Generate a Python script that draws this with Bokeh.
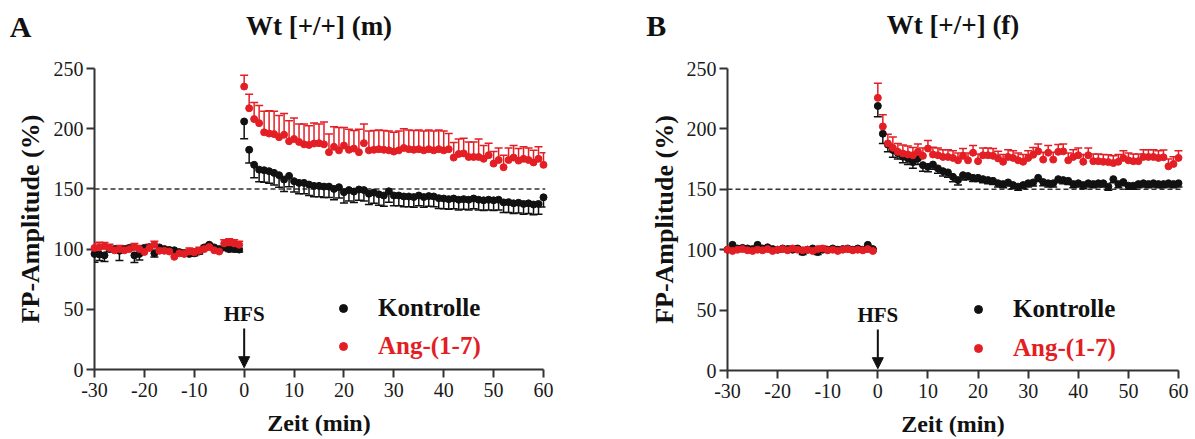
from bokeh.plotting import figure
from bokeh.models import (Range1d, FixedTicker, Whisker, TeeHead, ColumnDataSource, Span,
                          Arrow, NormalHead, Legend, LegendItem)
from bokeh.core.properties import value
from bokeh.layouts import row
from bokeh.embed import file_html
from bokeh.resources import INLINE

# ---------------- data ----------------
t_pre = [-30, -29, -28, -27, -26, -25, -24, -23, -22, -21, -20, -19, -18, -17, -16,
         -15, -14, -13, -12, -11, -10, -9, -8, -7, -6, -5, -4, -3, -2, -1]
t_post = [0, 1, 2, 3, 4, 5, 6, 7, 8, 9, 10, 11, 12, 13, 14, 15, 16, 17, 18, 19, 20,
          21, 22, 23, 24, 25, 26, 27, 28, 29, 30, 31, 32, 33, 34, 35, 36, 37, 38, 39, 40,
          41, 42, 43, 44, 45, 46, 47, 48, 49, 50, 51, 52, 53, 54, 55, 56, 57, 58, 59, 60]

# Panel A  (Wt [+/+] (m))
a_ctrl_pre = [96, 95.5, 94.8, 100, 100, 98.6, 100, 101, 94.8, 96, 101, 101.5, 96.5, 101.4, 100,
              99.3, 99, 97.5, 96.6, 96, 96.5, 98, 101.4, 103.6, 101.4, 100, 101.4, 100, 100, 99.6]
a_ctrl_pre_err = [7, 5, 5, 2, 2, 8, 2, 2, 6, 5, 2, 2, 3, 2, 2,
                  2, 2, 2, 2, 2, 2, 2, 2, 2, 2, 2, 2, 2, 2, 2]
a_ang_pre = [101, 101.6, 102.5, 101, 99, 100, 99, 100, 101.7, 100, 97.6, 101, 103.6, 98.6, 98.6,
             98, 93.6, 96.5, 96, 98, 97.3, 98.6, 100, 101.7, 99, 98, 104.7, 105.5, 104.7, 103.6]
a_ang_pre_err = [4, 4, 3, 3, 3, 3, 3, 3, 3, 3, 3, 3, 3, 3, 3,
                 3, 3, 3, 3, 3, 3, 3, 3, 3, 3, 3, 3, 3, 3, 3]
a_ctrl_post = [206, 182.5, 170, 166, 165.5, 164.7, 163.3, 161.4, 157.8, 160.8,
               156.4, 155, 155, 153.6, 152.5, 152.5, 151.9, 151.9, 150, 151.4,
               147.3, 149, 147.8, 149.5, 149, 146, 147, 145.5, 144.5, 148,
               144.5, 144.5, 143.7, 143.7, 143.2, 144.5, 143.2, 144, 143.7, 142.3,
               142, 141.5, 142, 141, 141.5, 141, 142, 141, 140.5, 141,
               140.5, 141, 138.8, 139, 138, 138.5, 137.5, 138, 137, 137.5, 143]
a_ctrl_post_err = [14.4, 11, 10.8, 10, 10, 10, 10, 10, 10, 9,
                   9, 9, 9, 9, 9, 9, 9, 9, 9, 9,
                   9, 9, 9, 9, 9, 9, 9, 9, 9, 9,
                   8.5, 8.5, 8.5, 8.5, 8.5, 8.5, 8.5, 8.5, 8.5, 8.5,
                   8.5, 8.5, 8.5, 8.5, 8.5, 8.5, 8.5, 8.5, 8.5, 8.5,
                   8.5, 8.5, 8.5, 8.5, 8.5, 8.5, 8.5, 8.5, 8.5, 8.5, 8]
a_ang_post = [235, 217, 208, 204.6, 197, 196, 195.5, 193, 195, 189.6,
              191.5, 189, 187, 186.5, 187.7, 188, 187, 180.5, 185, 182,
              186, 182.5, 183.5, 180.5, 188, 182, 182.5, 183, 182.5, 182,
              181, 182, 184, 183, 182.5, 183, 182, 183, 182, 183,
              182, 183, 176, 179, 179.5, 176.5, 176.5, 176.5, 175, 178,
              171, 174, 168, 174, 176, 173.5, 175, 174, 172, 175, 170]
a_ang_post_err = [9.4, 11.6, 13.8, 14.7, 17.4, 19, 19, 18, 17.7, 17,
                  17.4, 15, 17, 16, 17, 16, 18.5, 15, 16.6, 19,
                  15, 17, 15, 19, 16, 16, 16, 16, 16, 16,
                  16, 16, 16, 16, 16, 16, 16, 16, 16, 16,
                  16, 13, 12.5, 12.5, 12.5, 12.5, 12.5, 15, 11, 10,
                  10, 10, 10, 10, 10, 10, 10, 10, 10, 10, 10]

# Panel B  (Wt [+/+] (f))
b_ctrl_pre = [100, 104, 101, 101.5, 101, 100.5, 104, 101, 102, 100.5, 100, 101, 100.5, 100, 101,
              98, 100, 101, 98, 100, 100, 101, 100, 100.5, 101, 100, 101, 100, 104, 100.5]
b_ctrl_pre_err = [2, 2, 2, 2, 2, 2, 2, 2, 2, 2, 2, 2, 2, 2, 2,
                  2, 2, 2, 2, 2, 2, 2, 2, 2, 2, 2, 2, 2, 2, 2]
b_ang_pre = [100, 99, 100, 100.5, 99.5, 99, 100, 99.5, 100.5, 99, 100, 100.5, 99.5, 101, 100,
             99.5, 100, 99, 100.5, 101, 99.5, 100, 99, 100, 100.5, 99.5, 100, 99.5, 100.5, 99]
b_ang_pre_err = [2, 2, 2, 2, 2, 2, 2, 2, 2, 2, 2, 2, 2, 2, 2,
                 2, 2, 2, 2, 2, 2, 2, 2, 2, 2, 2, 2, 2, 2, 2]
b_ctrl_post = [219, 196, 187, 182.5, 180, 177, 175.6, 172.5, 175.6, 170,
               168.6, 170.5, 167.3, 165, 164, 160.3, 157.6, 161.7, 161, 159.5,
               159.5, 158.4, 157.6, 157, 155, 154.3, 155.7, 153.5, 152.2, 153.5,
               155, 155.7, 159.5, 156, 155, 155, 158.4, 157.6, 157, 154.3,
               155, 153.5, 155, 154.3, 155, 155, 152.2, 158.4, 154.3, 156,
               153, 153, 154.3, 155, 154.3, 155, 154.3, 154.3, 155, 154.3, 155]
b_ctrl_post_err = [9, 8, 6, 6, 5, 5, 5, 5, 5, 5,
                   4, 4, 4, 4, 4, 4, 4, 4, 3, 3,
                   3, 3, 3, 3, 3, 3, 3, 3, 3, 3,
                   3, 3, 3, 3, 3, 3, 3, 3, 3, 3,
                   3, 3, 3, 3, 3, 3, 3, 3, 3, 3,
                   3, 3, 3, 3, 3, 3, 3, 3, 3, 3, 3]
b_ang_post = [225.7, 202, 188, 184.3, 181, 179.7, 178.8, 178.2, 181, 177.7,
              183.8, 178.8, 178.2, 176.8, 176.8, 176, 174, 177.7, 174, 180.3,
              173.3, 178.2, 178.2, 177.7, 175.6, 172.8, 176.8, 176, 174, 172.8,
              176, 178.6, 181.4, 174.6, 180.3, 174.6, 181, 181.4, 174, 176.8,
              178.2, 172.8, 178.2, 173.3, 173.3, 172.8, 172.5, 171.7, 172.8, 176,
              174, 173.3, 173.3, 176.8, 176.8, 176.8, 176, 176.5, 169, 171, 176]
b_ang_post_err = [12, 9.7, 7.5, 9, 7, 7, 7, 6.5, 6.5, 6.5,
                  6.5, 6, 6, 6, 6, 6, 6, 6, 6, 6,
                  6, 6, 6, 6, 6, 6, 6, 6, 6, 6,
                  6, 6, 6, 6, 6, 6, 6, 6, 6, 6,
                  6, 6, 6, 6, 6, 6, 6, 6, 6, 6,
                  6, 6, 6, 6, 6, 6, 6, 6, 6, 6, 6]

x_ticks = [-30, -20, -10, 0, 10, 20, 30, 40, 50, 60]
x_tick_labels = ["-30", "-20", "-10", "0", "10", "20", "30", "40", "50", "60"]
y_ticks = [0, 50, 100, 150, 200, 250]
y_tick_labels = ["0", "50", "100", "150", "200", "250"]
series_names = ["Kontrolle", "Ang-(1-7)"]
titles = ["Wt [+/+] (m)", "Wt [+/+] (f)"]
panel_letters = ["A", "B"]

RED = "#e31e24"
BLK = "#111111"
AXC = "#333333"
FONT = "Liberation Serif"


def add_text(p, x, y, s, size, angle=0.0, color=BLK):
    p.text(x=[x], y=[y], text=[s], text_font=value(FONT), text_font_style="bold",
           text_font_size=size, text_align="center", text_baseline="middle",
           angle=angle, text_color=color, level="overlay")


def make_panel(letter, title, ctrl_y, ctrl_e, ang_y, ang_e, geo):
    p = figure(frame_width=geo["fw"], frame_height=geo["fh"],
               min_border_left=geo["bl"], min_border_right=geo["br"],
               min_border_top=geo["bt"], min_border_bottom=geo["bb"],
               x_range=Range1d(-30, geo["xend"]), y_range=Range1d(0, 250),
               output_backend="svg", toolbar_location=None, title=None,
               background_fill_color="white", border_fill_color="white")
    p.outline_line_color = None
    p.grid.visible = False

    for ax in (p.xaxis[0], p.yaxis[0]):
        ax.axis_line_color = AXC
        ax.axis_line_width = 2
        ax.major_tick_line_color = AXC
        ax.major_tick_line_width = 2
        ax.major_tick_out = 8
        ax.major_tick_in = 0
        ax.minor_tick_line_color = None
        ax.major_label_text_font = FONT
        ax.major_label_text_font_size = "20px"
        ax.major_label_text_color = "#1a1a1a"
    p.xaxis[0].ticker = FixedTicker(ticks=x_ticks)
    p.yaxis[0].ticker = FixedTicker(ticks=y_ticks)
    p.xaxis[0].major_label_overrides = dict(zip(x_ticks, x_tick_labels))
    p.yaxis[0].major_label_overrides = dict(zip(y_ticks, y_tick_labels))
    p.xaxis[0].bounds = (-30, 60)
    p.yaxis[0].bounds = (0, 250)
    p.xaxis[0].major_label_standoff = 5
    p.yaxis[0].major_label_standoff = 3

    p.add_layout(Span(location=150, dimension="width", line_dash="5 3",
                      line_color=AXC, line_width=1.5, level="underlay"))

    t_all = t_pre + t_post
    cy = ctrl_y[0] + ctrl_y[1]
    ce = ctrl_e[0] + ctrl_e[1]
    ay = ang_y[0] + ang_y[1]
    ae = ang_e[0] + ang_e[1]
    src_c = ColumnDataSource(dict(t=t_all, y=cy, lo=[v - e for v, e in zip(cy, ce)], hi=cy))
    src_a = ColumnDataSource(dict(t=t_all, y=ay, lo=ay, hi=[v + e for v, e in zip(ay, ae)]))

    p.add_layout(Whisker(base="t", lower="lo", upper="hi", source=src_c, dimension="height",
                         line_color=BLK, line_width=1.5, upper_head=None, level="annotation",
                         lower_head=TeeHead(size=8, line_color=BLK, line_width=1.5)))
    p.add_layout(Whisker(base="t", lower="lo", upper="hi", source=src_a, dimension="height",
                         line_color=RED, line_width=1.5, lower_head=None, level="annotation",
                         upper_head=TeeHead(size=8, line_color=RED, line_width=1.5)))

    rc = p.scatter("t", "y", source=src_c, size=7, color=BLK, level="overlay")
    ra = p.scatter("t", "y", source=src_a, size=7, color=RED, level="overlay")

    for item, loc, col in ((LegendItem(label=series_names[0], renderers=[rc]), geo["leg1"], BLK),
                           (LegendItem(label=series_names[1], renderers=[ra]), geo["leg2"], RED)):
        lg = Legend(items=[item], location=loc, orientation="vertical",
                    label_text_font=FONT, label_text_font_style="bold",
                    label_text_font_size="25px", label_text_color=col,
                    glyph_width=20, glyph_height=30, label_height=30, label_standoff=25,
                    padding=0, margin=0, spacing=0, border_line_color=None,
                    background_fill_alpha=0)
        p.add_layout(lg)

    # HFS marker
    p.add_layout(Arrow(x_start=0, y_start=34, x_end=0, y_end=1.5, line_color=BLK, line_width=2,
                       end=NormalHead(size=11, fill_color=BLK, line_color=BLK)))
    add_text(p, 0, 46, "HFS", "21px")

    # titles and axis titles
    add_text(p, 15, geo["ty"], title, "27px")
    add_text(p, geo["lx"], geo["ty"], letter, "30px")
    add_text(p, 15, geo["xty"], "Zeit (min)", "24px")
    add_text(p, geo["yx"], 125, "FP-Amplitude (%)", "26px", angle=1.5707963)
    return p


geoA = dict(fw=451, fh=301, bl=94, br=65, bt=66, bb=71, xend=60.4,
            leg1=(239, 46), leg2=(239, 8), ty=285, lx=-44.8, yx=-42.8, xty=-44.5)
geoB = dict(fw=456, fh=302, bl=117, br=10, bt=68, bb=68, xend=61,
            leg1=(241, 46), leg2=(241, 7), ty=286, lx=-44.2, yx=-42.6, xty=-44.5)

pA = make_panel(panel_letters[0], titles[0], (a_ctrl_pre, a_ctrl_post), (a_ctrl_pre_err, a_ctrl_post_err),
                (a_ang_pre, a_ang_post), (a_ang_pre_err, a_ang_post_err), geoA)
pB = make_panel(panel_letters[1], titles[1], (b_ctrl_pre, b_ctrl_post), (b_ctrl_pre_err, b_ctrl_post_err),
                (b_ang_pre, b_ang_post), (b_ang_pre_err, b_ang_post_err), geoB)

layout = row(pA, pB, spacing=0)
open("out.html", "w").write(file_html(layout, INLINE))
